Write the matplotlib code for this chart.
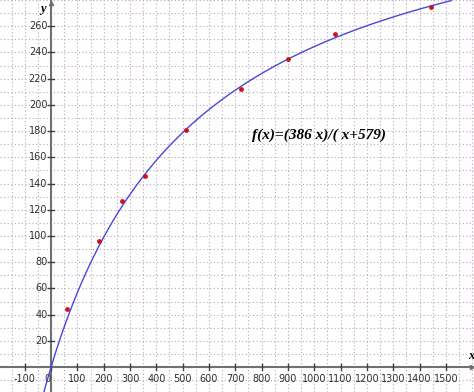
import numpy as np
import matplotlib
matplotlib.use("Agg")
import matplotlib.pyplot as plt

# measured points
x_pts = [62, 182, 270, 358, 513, 722, 900, 1080, 1444]
y_pts = [44.5, 96, 127, 146, 181, 212, 235, 254, 275]

# fitted model f(x) = a x / (x + b)
a_fit = 386
b_fit = 579
label_txt = "f(x)=(386 x)/( x+579)"

x_ticks = list(range(-100, 1600, 100))
y_ticks = list(range(20, 280, 20))

fig = plt.figure(figsize=(4.74, 3.92), dpi=100)
ax = fig.add_axes([0, 0, 1, 1])
ax.set_xlim(-194, 1607)
ax.set_ylim(-19, 280)

# dotted grid
for gx in range(-150, 1650, 50):
    ax.axvline(gx, color="#bba4be", lw=0.8, ls=(0, (1, 2.2)), zorder=0)
for gy in range(-10, 290, 10):
    ax.axhline(gy, color="#bba4be", lw=0.8, ls=(0, (1, 2.2)), zorder=0)

for s in ax.spines.values():
    s.set_visible(False)
ax.set_xticks([])
ax.set_yticks([])

# axes through origin
ax.axhline(0, color="#707070", lw=1.5, zorder=2)
ax.axvline(0, color="#707070", lw=1.5, zorder=2)
ax.plot(1598, 0, marker=">", color="#707070", ms=3, zorder=3)
ax.plot(0, 278, marker="^", color="#707070", ms=3, zorder=3)

for t in x_ticks:
    ax.plot([t, t], [-2.5, 2.5], color="#404040", lw=1, zorder=3)
    xt = t if t != 0 else -12
    ax.text(xt, -5, str(t), ha="center", va="top", fontsize=7, color="#303030",
            family="DejaVu Sans")
for t in y_ticks:
    ax.plot([-10, 10], [t, t], color="#404040", lw=1, zorder=3)
    ax.text(-14, t, str(t), ha="right", va="center", fontsize=7, color="#303030", family="DejaVu Sans")

ax.text(1598, 4, "x", ha="center", va="bottom", fontsize=9, style="italic",
        family="Liberation Serif", fontweight="bold")
ax.text(-30, 273, "y", ha="center", va="center", fontsize=9, style="italic",
        family="Liberation Serif", fontweight="bold")

# curve
xx = np.linspace(-40, 1520, 400)
ax.plot(xx, a_fit * xx / (xx + b_fit), color="#4848d8", lw=1, zorder=4)

ax.scatter(x_pts, y_pts, s=6, color="#d01020", zorder=5)

ax.text(763, 177, label_txt, fontsize=11, style="italic", fontweight="bold",
        family="Liberation Serif", va="center", ha="left")

fig.savefig("out.png", dpi=100)
